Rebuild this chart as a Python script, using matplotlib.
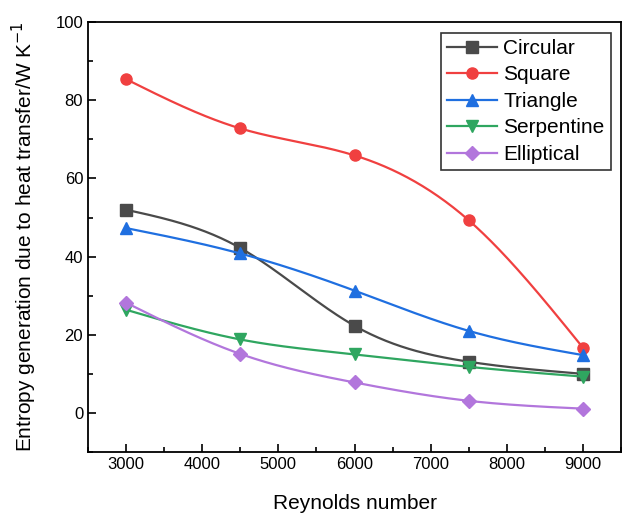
import numpy as np
import matplotlib
matplotlib.use("Agg")
import matplotlib.pyplot as plt
from matplotlib.ticker import MultipleLocator

plt.rcParams['font.family'] = ['Liberation Sans', 'DejaVu Sans']

reynolds = [3000, 4500, 6000, 7500, 9000]
circular = [52.0, 42.2, 22.3, 13.1, 10.0]
square = [85.4, 72.8, 65.9, 49.3, 16.7]
triangle = [47.3, 40.8, 31.3, 21.0, 14.8]
serpentine = [26.4, 18.8, 15.0, 11.8, 9.3]
elliptical = [28.2, 15.1, 7.8, 3.1, 1.1]

names = ["Circular", "Square", "Triangle", "Serpentine", "Elliptical"]
colors = ["#4a4a4a", "#f04040", "#1f6fe0", "#2fa660", "#b276dc"]
markers = ["s", "o", "^", "v", "D"]


def natural_spline(x, y, xs):
    # plain natural cubic spline, only to draw the smooth connecting line
    x = np.asarray(x, float)
    y = np.asarray(y, float)
    n = len(x)
    h = np.diff(x)
    A = np.zeros((n, n))
    b = np.zeros(n)
    A[0, 0] = 1
    A[-1, -1] = 1
    for i in range(1, n - 1):
        A[i, i - 1] = h[i - 1]
        A[i, i] = 2 * (h[i - 1] + h[i])
        A[i, i + 1] = h[i]
        b[i] = 3 * ((y[i + 1] - y[i]) / h[i] - (y[i] - y[i - 1]) / h[i - 1])
    c = np.linalg.solve(A, b)
    out = np.zeros_like(xs)
    for k, xv in enumerate(xs):
        i = min(np.searchsorted(x, xv, side="right") - 1, n - 2)
        i = max(i, 0)
        dx = xv - x[i]
        bi = (y[i + 1] - y[i]) / h[i] - h[i] * (2 * c[i] + c[i + 1]) / 3
        di = (c[i + 1] - c[i]) / (3 * h[i])
        out[k] = y[i] + bi * dx + c[i] * dx ** 2 + di * dx ** 3
    return out


fig = plt.figure(figsize=(6.23, 5.15), dpi=100)
ax = fig.add_axes([0.1413, 0.1223, 0.8555, 0.8347])

xs = np.linspace(reynolds[0], reynolds[-1], 300)
series = [circular, square, triangle, serpentine, elliptical]
for vals, name, col, mk in zip(series, names, colors, markers):
    ax.plot(xs, natural_spline(reynolds, vals, xs), color=col, lw=1.6)
    ms = 7 if mk == "D" else 8
    ax.plot(reynolds, vals, linestyle="none", marker=mk, color=col, ms=ms)
    ax.plot([], [], color=col, lw=1.6, marker=mk, ms=ms, label=name)

ax.set_xlim(2500, 9500)
ax.set_ylim(-10, 100)
ax.xaxis.set_major_locator(MultipleLocator(1000))
ax.xaxis.set_minor_locator(MultipleLocator(500))
ax.yaxis.set_major_locator(MultipleLocator(20))
ax.yaxis.set_minor_locator(MultipleLocator(10))
ax.tick_params(which="both", direction="in", labelsize=12, width=1.2)
ax.tick_params(which="major", length=6)
ax.tick_params(which="minor", length=3.5)
for sp in ax.spines.values():
    sp.set_linewidth(1.3)

ax.set_xlabel("Reynolds number", fontsize=15, labelpad=16)
ax.set_ylabel("Entropy generation due to heat transfer/W K$^{-1}$", fontsize=15, labelpad=12)

leg = ax.legend(loc="upper right", fontsize=15, frameon=True, fancybox=False,
                edgecolor="black", borderpad=0.3, labelspacing=0.36,
                handlelength=2.4, handletextpad=0.3, borderaxespad=0.5)
leg.get_frame().set_linewidth(1.2)

fig.savefig("out.png", dpi=100)
